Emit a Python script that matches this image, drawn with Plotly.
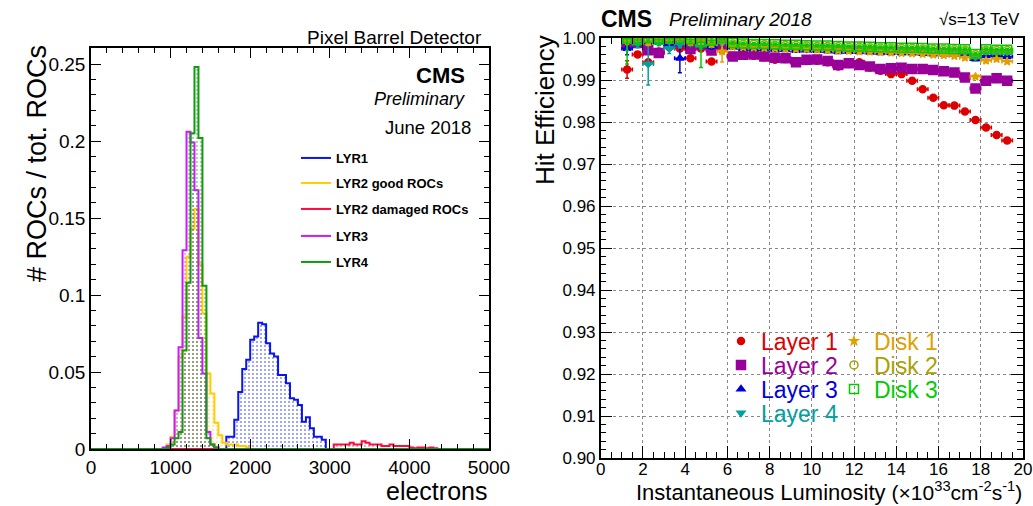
import plotly.graph_objects as go

W, H = 1033, 506
FONT = "Liberation Sans, Arial, Helvetica, sans-serif"

# ---------------- Left panel: ROC threshold histograms (50 e- bins) ----------------
bin_width = 50
x_max_electrons = 5000

lyr1_start = 1700
lyr1_vals = [0.008, 0.008, 0.019, 0.037, 0.052, 0.058, 0.071, 0.073, 0.082, 0.081,
             0.0686, 0.062, 0.060, 0.048, 0.048, 0.0427, 0.033, 0.032, 0.0286, 0.0177,
             0.0206, 0.0134, 0.008, 0.008, 0.006]

lyr2_good_start = 950
lyr2_good_vals = [0.003, 0.008, 0.025, 0.060, 0.086, 0.125, 0.143, 0.156, 0.120, 0.088,
                  0.049, 0.036, 0.017, 0.009, 0.004, 0.003, 0.003, 0.003, 0.002, 0.002,
                  0.001]

lyr2_dam_start = 3050
lyr2_dam_vals = [0.003, 0.003, 0.003, 0.003, 0.004, 0.003, 0.003, 0.005, 0.004, 0.003,
                 0.003, 0.003, 0.002, 0.002, 0.003, 0.002, 0.002, 0.002, 0.002, 0.001,
                 0.0005, 0.001, 0.001, 0.0005, 0.001, 0.0005]

lyr3_start = 900
lyr3_vals = [0.001, 0.002, 0.007, 0.025, 0.066, 0.129, 0.206, 0.199, 0.168, 0.072,
             0.049, 0.011, 0.003, 0.001]

lyr4_start = 950
lyr4_vals = [0.001, 0.003, 0.007, 0.011, 0.064, 0.108, 0.205, 0.248, 0.202, 0.106,
             0.007, 0.003, 0.001]

hist_names = ["LYR1", "LYR2 good ROCs", "LYR2 damaged ROCs", "LYR3", "LYR4"]
hist_starts = [lyr1_start, lyr2_good_start, lyr2_dam_start, lyr3_start, lyr4_start]
hist_values = [lyr1_vals, lyr2_good_vals, lyr2_dam_vals, lyr3_vals, lyr4_vals]
hist_colors = ["#0a14f0", "#ffcc00", "#ff0a3c", "#cc1aff", "#109a10"]

# ---------------- Right panel: hit efficiency vs instantaneous luminosity ----------------
lumi = [1.25, 1.75, 2.25, 2.75, 3.25, 3.75, 4.25, 4.75, 5.25, 5.75,
        6.25, 6.75, 7.25, 7.75, 8.25, 8.75, 9.25, 9.75, 10.25, 10.75,
        11.25, 11.75, 12.25, 12.75, 13.25, 13.75, 14.25, 14.75, 15.25, 15.75,
        16.25, 16.75, 17.25, 17.75, 18.25, 18.75, 19.25]
lumi_half_bin = 0.25

layer1 = [0.9925, 0.9961, 0.9942, 0.9968, 0.9978, 0.9975, 0.9952, 0.9975, 0.9944, 0.9972,
          0.9958, 0.9960, 0.9958, 0.9954, 0.9948, 0.9950, 0.9942, 0.9945, 0.9946, 0.9942,
          0.9932, 0.9938, 0.9942, 0.9930, 0.9922, 0.9914, 0.9914, 0.9898, 0.9878, 0.9858,
          0.9840, 0.9839, 0.9825, 0.9805, 0.9787, 0.9769, 0.9756]
layer1_err = [0.0021, 0.0006, 0.0005, 0.0006, 0.0005, 0.0005, 0.0004, 0.0004, 0.0003, 0.0003,
              0.0002, 0.0002, 0.0002, 0.0002, 0.0002, 0.0002, 0.0002, 0.0002, 0.0002, 0.0002,
              0.0002, 0.0002, 0.0002, 0.0002, 0.0002, 0.0002, 0.0002, 0.0002, 0.0002, 0.0002,
              0.0002, 0.0002, 0.0002, 0.0002, 0.0002, 0.0002, 0.0002]

layer2 = [0.9985, 0.9988, 0.9971, 0.9964, 0.9991, 0.9990, 0.9974, 0.9985, 0.9970, 0.9985,
          0.9956, 0.9960, 0.9961, 0.9956, 0.9953, 0.9952, 0.9942, 0.9948, 0.9949, 0.9945,
          0.9936, 0.9940, 0.9936, 0.9932, 0.9926, 0.9928, 0.9929, 0.9926, 0.9926, 0.9924,
          0.9921, 0.9918, 0.9906, 0.9880, 0.9898, 0.9904, 0.9898]
layer2_err = [0.0010, 0.0006, 0.0005, 0.0005, 0.0004, 0.0004, 0.0004, 0.0003, 0.0003, 0.0003,
              0.0002, 0.0002, 0.0002, 0.0002, 0.0002, 0.0002, 0.0002, 0.0002, 0.0002, 0.0002,
              0.0002, 0.0002, 0.0002, 0.0002, 0.0002, 0.0002, 0.0002, 0.0002, 0.0002, 0.0002,
              0.0002, 0.0002, 0.0002, 0.0002, 0.0002, 0.0002, 0.0002]

layer3 = [0.9975, 0.9993, 0.9990, 0.9992, 0.9985, 0.9952, 0.9990, 0.9985, 0.9980, 1.0000,
          0.9978, 0.9976, 0.9975, 0.9974, 0.9972, 0.9972, 0.9970, 0.9971, 0.9970, 0.9969,
          0.9967, 0.9968, 0.9967, 0.9966, 0.9965, 0.9965, 0.9964, 0.9964, 0.9963, 0.9962,
          0.9962, 0.9961, 0.9960, 0.9950, 0.9958, 0.9957, 0.9956]
layer3_err = [0.0015, 0.0006, 0.0008, 0.0008, 0.0008, 0.0035, 0.0006, 0.0007, 0.0006, 0.0005,
              0.0003, 0.0003, 0.0003, 0.0003, 0.0003, 0.0003, 0.0003, 0.0003, 0.0003, 0.0003,
              0.0003, 0.0003, 0.0003, 0.0003, 0.0003, 0.0003, 0.0003, 0.0003, 0.0003, 0.0003,
              0.0003, 0.0003, 0.0003, 0.0003, 0.0003, 0.0003, 0.0003]

layer4 = [0.9990, 0.9987, 0.9938, 0.9990, 0.9975, 0.9985, 0.9988, 0.9982, 0.9985, 0.9988,
          0.9984, 0.9983, 0.9982, 0.9981, 0.9980, 0.9980, 0.9979, 0.9978, 0.9978, 0.9977,
          0.9976, 0.9976, 0.9975, 0.9974, 0.9973, 0.9973, 0.9972, 0.9972, 0.9971, 0.9970,
          0.9970, 0.9969, 0.9968, 0.9955, 0.9968, 0.9967, 0.9967]
layer4_err = [0.0020, 0.0010, 0.0050, 0.0008, 0.0012, 0.0008, 0.0006, 0.0008, 0.0006, 0.0005,
              0.0003, 0.0003, 0.0003, 0.0003, 0.0003, 0.0003, 0.0003, 0.0003, 0.0003, 0.0003,
              0.0003, 0.0003, 0.0003, 0.0003, 0.0003, 0.0003, 0.0003, 0.0003, 0.0003, 0.0003,
              0.0003, 0.0003, 0.0003, 0.0003, 0.0003, 0.0003, 0.0003]

disk1 = [0.9995, 1.0000, 0.9990, 1.0000, 0.9995, 0.9998, 0.9990, 0.9992, 0.9985, 0.9968,
         0.9979, 0.9978, 0.9977, 0.9976, 0.9975, 0.9974, 0.9973, 0.9973, 0.9972, 0.9971,
         0.9970, 0.9969, 0.9968, 0.9967, 0.9966, 0.9965, 0.9964, 0.9963, 0.9962, 0.9960,
         0.9959, 0.9957, 0.9953, 0.9908, 0.9946, 0.9950, 0.9944]
disk1_err = [0.0010, 0.0008, 0.0008, 0.0008, 0.0008, 0.0006, 0.0006, 0.0006, 0.0006, 0.0025,
             0.0003, 0.0003, 0.0003, 0.0003, 0.0003, 0.0003, 0.0003, 0.0003, 0.0003, 0.0003,
             0.0003, 0.0003, 0.0003, 0.0003, 0.0003, 0.0003, 0.0003, 0.0003, 0.0003, 0.0003,
             0.0003, 0.0003, 0.0003, 0.0003, 0.0003, 0.0003, 0.0003]

disk2 = [1.0000, 1.0000, 0.9998, 1.0000, 1.0000, 1.0000, 0.9995, 1.0000, 0.9995, 0.9995,
         0.9986, 0.9985, 0.9985, 0.9984, 0.9983, 0.9982, 0.9982, 0.9981, 0.9980, 0.9980,
         0.9979, 0.9978, 0.9978, 0.9977, 0.9976, 0.9976, 0.9975, 0.9975, 0.9974, 0.9973,
         0.9973, 0.9972, 0.9971, 0.9960, 0.9971, 0.9970, 0.9970]
disk2_err = [0.0008, 0.0008, 0.0008, 0.0008, 0.0006, 0.0006, 0.0006, 0.0006, 0.0005, 0.0005,
             0.0003, 0.0003, 0.0003, 0.0003, 0.0003, 0.0003, 0.0003, 0.0003, 0.0003, 0.0003,
             0.0003, 0.0003, 0.0003, 0.0003, 0.0003, 0.0003, 0.0003, 0.0003, 0.0003, 0.0003,
             0.0003, 0.0003, 0.0003, 0.0003, 0.0003, 0.0003, 0.0003]

disk3 = [0.9998, 0.9995, 1.0000, 0.9996, 0.9998, 1.0000, 0.9997, 0.9990, 0.9994, 1.0000,
         0.9988, 0.9987, 0.9986, 0.9986, 0.9985, 0.9984, 0.9984, 0.9983, 0.9982, 0.9982,
         0.9981, 0.9980, 0.9980, 0.9979, 0.9978, 0.9978, 0.9977, 0.9977, 0.9976, 0.9975,
         0.9975, 0.9974, 0.9973, 0.9962, 0.9973, 0.9972, 0.9972]
disk3_err = [0.0060, 0.0008, 0.0008, 0.0008, 0.0008, 0.0006, 0.0006, 0.0060, 0.0005, 0.0005,
             0.0003, 0.0003, 0.0003, 0.0003, 0.0003, 0.0003, 0.0003, 0.0003, 0.0003, 0.0003,
             0.0003, 0.0003, 0.0003, 0.0003, 0.0003, 0.0003, 0.0003, 0.0003, 0.0003, 0.0003,
             0.0003, 0.0003, 0.0003, 0.0003, 0.0003, 0.0003, 0.0003]

eff_names = ["Layer 1", "Layer 2", "Layer 3", "Layer 4", "Disk 1", "Disk 2", "Disk 3"]
eff_values = [layer1, layer2, layer3, layer4, disk1, disk2, disk3]
eff_errors = [layer1_err, layer2_err, layer3_err, layer4_err, disk1_err, disk2_err, disk3_err]
eff_colors = ["#dd0000", "#990099", "#0000dd", "#00a0a0", "#e0a000", "#a8a000", "#00cc00"]
eff_symbols = ["circle", "square", "triangle-up", "triangle-down", "star", "circle-open", "square-open"]
eff_sizes = [7, 9, 7, 7, 6, 8, 9]

# legend key positions (pixels): one legend box per entry
hist_leg_pos = [(296, 158), (296, 183), (296, 209), (296, 236), (296, 262)]
eff_leg_pos = [(721, 341), (721, 365), (721, 389), (721, 413),
               (834, 341), (834, 365), (834, 389)]


def px_x(p):
    return p / W


def px_y(p):
    return 1 - p / H


def step_xy(start, vals):
    xs = [0, start] + [start + bin_width * (i + 1) for i in range(len(vals))] + [x_max_electrons]
    ys = [0] + list(vals) + [0, 0]
    return xs, ys


fig = go.Figure()
legend_layouts = {}
leg_idx = 0


def next_legend():
    global leg_idx
    leg_idx += 1
    return "legend" if leg_idx == 1 else "legend%d" % leg_idx


for name, start, vals, col, pos in zip(hist_names, hist_starts, hist_values, hist_colors, hist_leg_pos):
    xs, ys = step_xy(start, vals)
    lg = next_legend()
    fig.add_trace(go.Scatter(
        x=xs, y=ys, mode="lines", line=dict(shape="hv", width=0, color=col),
        fill="tozeroy", fillcolor="rgba(0,0,0,0)",
        fillpattern=dict(shape=".", fgcolor=col, bgcolor="rgba(255,255,255,0)", size=4, solidity=0.2),
        showlegend=False, hoverinfo="skip", xaxis="x", yaxis="y"))
    fig.add_trace(go.Scatter(
        x=xs, y=ys, mode="lines", line=dict(shape="hv", width=2, color=col),
        name="<b>%s</b>" % name, legend=lg, xaxis="x", yaxis="y"))
    legend_layouts[lg] = dict(x=px_x(pos[0]), y=px_y(pos[1]), xanchor="left", yanchor="middle",
                              bgcolor="rgba(0,0,0,0)", itemwidth=30,
                              font=dict(family=FONT, size=13, color="black"))

for name, vals, errs, col, sym, sz, pos in zip(eff_names, eff_values, eff_errors, eff_colors,
                                               eff_symbols, eff_sizes, eff_leg_pos):
    lg = next_legend()
    fig.add_trace(go.Scatter(
        x=lumi, y=vals, mode="markers",
        marker=dict(symbol=sym, size=sz, color=col, line=dict(color=col, width=1.5)),
        error_x=dict(type="constant", value=lumi_half_bin, color=col, thickness=1.5, width=2),
        error_y=dict(type="data", array=errs, color=col, thickness=1.5, width=2),
        name=name, legend=lg, xaxis="x2", yaxis="y2"))
    legend_layouts[lg] = dict(x=px_x(pos[0]), y=px_y(pos[1]), xanchor="left", yanchor="middle",
                              bgcolor="rgba(0,0,0,0)", itemwidth=30,
                              font=dict(family=FONT, size=23, color=col))

axis_common = dict(showline=True, linecolor="black", linewidth=1.5, mirror="allticks",
                   ticks="inside", tickcolor="black", zeroline=False, automargin=False,
                   tickfont=dict(family=FONT, size=19, color="black"))
axis_right = {**axis_common, "tickfont": dict(family=FONT, size=17, color="black")}

fig.update_layout(
    width=W, height=H, margin=dict(l=0, r=0, t=0, b=0, autoexpand=False),
    paper_bgcolor="white", plot_bgcolor="white",
    font=dict(family=FONT, color="black"),
    xaxis=dict(domain=[px_x(91), px_x(489)], range=[0, 5000], dtick=1000, tick0=0,
               ticklen=10, tickwidth=1, showgrid=False, anchor="y",
               minor=dict(dtick=200, ticklen=5, ticks="inside", tickcolor="black", showgrid=False),
               **axis_common),
    yaxis=dict(domain=[px_y(449), px_y(48)], range=[0, 0.2604], dtick=0.05, tick0=0,
               ticklen=10, tickwidth=1, showgrid=False, anchor="x",
               minor=dict(dtick=0.01, ticklen=5, ticks="inside", tickcolor="black", showgrid=False),
               **axis_common),
    xaxis2=dict(domain=[px_x(600.7), px_x(1023)], range=[0, 20], dtick=2, tick0=0,
                ticklen=12, tickwidth=1, anchor="y2", ticklabelstandoff=-5,
                showgrid=True, gridcolor="#888888", griddash="dot", gridwidth=1,
                minor=dict(dtick=0.5, ticklen=6, ticks="inside", tickcolor="black", showgrid=False),
                **axis_right),
    yaxis2=dict(domain=[px_y(458), px_y(38)], range=[0.9, 1.0], dtick=0.01, tick0=0.9,
                tickformat=".2f", ticklen=12, tickwidth=1, anchor="x2",
                showgrid=True, gridcolor="#888888", griddash="dot", gridwidth=1,
                minor=dict(dtick=0.002, ticklen=6, ticks="inside", tickcolor="black", showgrid=False),
                **axis_right),
    **legend_layouts,
)

annotations = [
    # left panel
    dict(text="# ROCs / tot. ROCs", x=px_x(37), y=px_y(164), textangle=-90,
         xanchor="center", yanchor="middle", font=dict(size=27)),
    dict(text="electrons", x=px_x(489), y=px_y(491), xanchor="right", yanchor="middle",
         font=dict(size=25)),
    dict(text="Pixel Barrel Detector", x=px_x(484), y=px_y(37), xanchor="right",
         yanchor="middle", font=dict(size=19)),
    dict(text="<b>CMS</b>", x=px_x(467), y=px_y(75), xanchor="right", yanchor="middle",
         font=dict(size=22)),
    dict(text="<i>Preliminary</i>", x=px_x(467), y=px_y(99), xanchor="right",
         yanchor="middle", font=dict(size=18)),
    dict(text="June 2018", x=px_x(473), y=px_y(127), xanchor="right", yanchor="middle",
         font=dict(size=18.5)),
    # right panel
    dict(text="<b>CMS</b>", x=px_x(599), y=px_y(19), xanchor="left", yanchor="middle",
         font=dict(size=23)),
    dict(text="<i>Preliminary 2018</i>", x=px_x(667), y=px_y(20), xanchor="left",
         yanchor="middle", font=dict(size=19)),
    dict(text="√s=13 TeV", x=px_x(1022), y=px_y(20), xanchor="right", yanchor="middle",
         font=dict(size=17)),
    dict(text="Hit Efficiency", x=px_x(545), y=px_y(110), textangle=-90,
         xanchor="center", yanchor="middle", font=dict(size=26)),
    dict(text='Instantaneous Luminosity <span style="font-size:21px">(×10<sup>33</sup>cm<sup>-2</sup>s<sup>-1</sup>)</span>',
         x=px_x(1024), y=px_y(491.5), xanchor="right", yanchor="middle", font=dict(size=22)),
]
for a in annotations:
    a.update(xref="paper", yref="paper", showarrow=False)
    a["font"] = dict(family=FONT, color="black", **a["font"])
fig.update_layout(annotations=annotations)

fig.write_html("out.html", config={"displayModeBar": False},
               post_script="document.body.style.margin='0';document.body.style.overflow='hidden';")
